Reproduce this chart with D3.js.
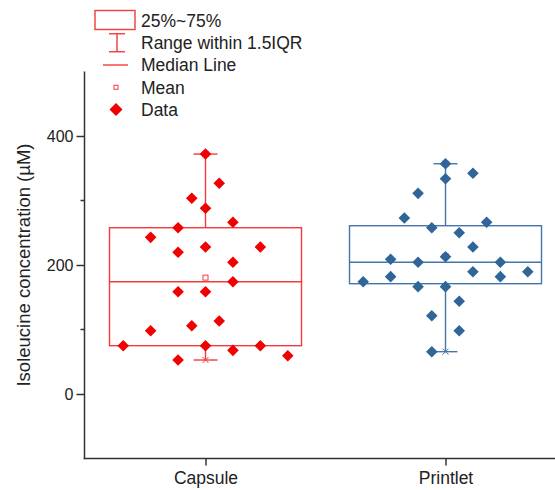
<!DOCTYPE html>
<html>
<head>
	<meta charset="utf-8">
	<title>Isoleucine box chart</title>
	<script src="https://d3js.org/d3.v7.min.js"></script>
	<style>
		body { margin: 0; background: #fff; }
		text { font-family: 'Liberation Sans', Arial, sans-serif; fill: #222; }
		.axis path, .axis line { stroke: #333; stroke-width: 1.5; }
	</style>
</head>
<body>
<script>
	// categories and data
	var categories = ["Capsule", "Printlet"];
	var capsuleValues = [372, 326.7, 303.4, 287.9, 266.2, 257.8, 242.9, 219.7, 227.9, 227.9, 204.2, 174.1,
		158.6, 158.6, 113.2, 105.9, 98.1, 74.9, 74.9, 74.9, 67.7, 59.4, 52.7];
	var capsuleSlots = [0, 1, -1, 0, 2, -2, -4, -2, 0, 4, 2, 2, -2, 0, 1, -1, -4, -6, 0, 4, 2, 6, -2];
	var printletValues = [357, 342.2, 333.8, 311.1, 272.9, 266.2, 257.8, 250.1, 227.9, 208.8, 204.2, 212.9,
		204.2, 174.1, 181.9, 189.6, 181.9, 189.6, 166.4, 166.4, 143.7, 121.4, 98.1, 65.6];
	var printletSlots = [0, 2, 0, -2, -3, 3, -1, 1, 2, -4, -2, 0, 4, -6, -4, 2, 4, 6, -2, 0, 1, -1, 1, -1];

	// box statistics (as drawn in the figure)
	var q1 = [74.9, 171];
	var medians = [174.1, 204.2];
	var q3 = [257.8, 260.9];
	var whiskerLow = [52.7, 65.6];
	var whiskerHigh = [372, 357];

	var legendLabels = ["25%~75%", "Range within 1.5IQR", "Median Line", "Mean", "Data"];
	var yTicks = [0, 200, 400];
	var yMinorTicks = [100, 300];

	var colors = { Capsule: { dot: "#f00000", line: "#f53a3a" }, Printlet: { dot: "#2f6598", line: "#4476aa" } };

	var width = 555, height = 490;
	var svg = d3.select("body").append("svg")
		.attr("width", width)
		.attr("height", height);

	var axisX = 84.5;
	var x = d3.scalePoint().domain(categories).range([85.5, 565.5]).padding(0.5);
	var y = d3.scaleLinear().domain([-100, 500]).range([458.5, 71.5]);
	var boxW = x.step() * 0.8;
	var slot = d3.scaleLinear().domain([-7, 7]).range([-boxW / 2, boxW / 2]);

	var groups = categories.map(function(c, i) {
		var vals = i === 0 ? capsuleValues : printletValues;
		var slots = i === 0 ? capsuleSlots : printletSlots;
		return {
			name: c,
			q1: q1[i], med: medians[i], q3: q3[i], lo: whiskerLow[i], hi: whiskerHigh[i],
			mean: d3.mean(vals),
			points: vals.map(function(v, j) { return { v: v, s: slots[j] }; })
		};
	});

	function diamond(cx, cy, r) {
		return "M" + cx + "," + (cy - r) + "L" + (cx + r) + "," + cy + "L" + cx + "," + (cy + r) + "L" + (cx - r) + "," + cy + "Z";
	}

	// axes
	var yAxis = svg.append("g").attr("class", "axis")
		.attr("transform", "translate(" + axisX + ",0)")
		.call(d3.axisLeft(y).tickValues(yTicks).tickSize(8).tickSizeOuter(0).tickPadding(3));
	yAxis.select(".domain").remove();
	yAxis.selectAll("text").style("font-size", "16px");
	yAxis.selectAll(".minor").data(yMinorTicks).enter().append("line")
		.attr("x1", -4).attr("x2", 0)
		.attr("y1", function(d) { return y(d); }).attr("y2", function(d) { return y(d); });
	yAxis.append("line").attr("x1", 0).attr("x2", 0).attr("y1", y(500)).attr("y2", y(-100) + 0.75);

	var xAxis = svg.append("g").attr("class", "axis")
		.attr("transform", "translate(0," + y(-100) + ")")
		.call(d3.axisBottom(x).tickSize(7).tickSizeOuter(0).tickPadding(6));
	xAxis.select(".domain").remove();
	xAxis.selectAll("text").style("font-size", "17.5px");
	xAxis.append("line").attr("x1", axisX - 0.75).attr("x2", width + 10).attr("y1", 0).attr("y2", 0);

	svg.append("text")
		.attr("transform", "translate(30," + y(200) + ") rotate(-90)")
		.attr("text-anchor", "middle")
		.style("font-size", "18.5px")
		.text("Isoleucine concentration (µM)");

	// boxes
	var g = svg.selectAll(".grp").data(groups).enter().append("g").attr("class", "grp");

	g.append("rect")
		.attr("x", function(d) { return x(d.name) - boxW / 2; })
		.attr("y", function(d) { return y(d.q3); })
		.attr("width", boxW)
		.attr("height", function(d) { return y(d.q1) - y(d.q3); })
		.attr("fill", "none")
		.attr("stroke", function(d) { return colors[d.name].line; })
		.attr("stroke-width", 1.4);

	g.append("line")
		.attr("x1", function(d) { return x(d.name) - boxW / 2; })
		.attr("x2", function(d) { return x(d.name) + boxW / 2; })
		.attr("y1", function(d) { return y(d.med); })
		.attr("y2", function(d) { return y(d.med); })
		.attr("stroke", function(d) { return colors[d.name].line; })
		.attr("stroke-width", 1.4);

	// whiskers
	[["hi", "q3"], ["lo", "q1"]].forEach(function(p) {
		g.append("line")
			.attr("x1", function(d) { return x(d.name); })
			.attr("x2", function(d) { return x(d.name); })
			.attr("y1", function(d) { return y(d[p[0]]); })
			.attr("y2", function(d) { return y(d[p[1]]); })
			.attr("stroke", function(d) { return colors[d.name].line; })
			.attr("stroke-width", 1.4);
		g.append("line")
			.attr("x1", function(d) { return x(d.name) - 12; })
			.attr("x2", function(d) { return x(d.name) + 12; })
			.attr("y1", function(d) { return y(d[p[0]]); })
			.attr("y2", function(d) { return y(d[p[0]]); })
			.attr("stroke", function(d) { return colors[d.name].line; })
			.attr("stroke-width", 1.4);
		g.append("path")
			.attr("d", function(d) {
				var cx = x(d.name), cy = y(d[p[0]]), r = 3;
				return "M" + (cx - r) + "," + (cy - r) + "L" + (cx + r) + "," + (cy + r) +
					"M" + (cx - r) + "," + (cy + r) + "L" + (cx + r) + "," + (cy - r);
			})
			.attr("stroke", function(d) { return colors[d.name].line; })
			.attr("stroke-width", 1);
	});

	// mean
	g.append("rect")
		.attr("x", function(d) { return x(d.name) - 2.5; })
		.attr("y", function(d) { return y(d.mean) - 2.5; })
		.attr("width", 5).attr("height", 5)
		.attr("fill", "#fff")
		.attr("stroke", function(d) { return colors[d.name].line; })
		.attr("stroke-width", 1);

	// data points
	g.each(function(d) {
		d3.select(this).selectAll(".pt").data(d.points).enter().append("path")
			.attr("class", "pt")
			.attr("d", function(p) { return diamond(x(d.name) + slot(p.s), y(p.v), 5.8); })
			.attr("fill", colors[d.name].dot);
	});

	// legend
	var red = colors.Capsule;
	var leg = svg.append("g");
	var rowY = d3.scalePoint().domain(legendLabels).range([20.5, 109.5]);
	leg.append("rect").attr("x", 95).attr("y", 10.5).attr("width", 40).attr("height", 19)
		.attr("fill", "none").attr("stroke", red.line).attr("stroke-width", 1.4);
	var wy = rowY(legendLabels[1]);
	leg.append("line").attr("x1", 117).attr("x2", 117).attr("y1", wy - 9).attr("y2", wy + 9).attr("stroke", red.line).attr("stroke-width", 1.4);
	leg.append("line").attr("x1", 109).attr("x2", 125).attr("y1", wy - 9).attr("y2", wy - 9).attr("stroke", red.line).attr("stroke-width", 1.4);
	leg.append("line").attr("x1", 109).attr("x2", 125).attr("y1", wy + 9).attr("y2", wy + 9).attr("stroke", red.line).attr("stroke-width", 1.4);
	var my = rowY(legendLabels[2]);
	leg.append("line").attr("x1", 103).attr("x2", 128).attr("y1", my).attr("y2", my).attr("stroke", red.line).attr("stroke-width", 1.4);
	var mny = rowY(legendLabels[3]);
	leg.append("rect").attr("x", 114).attr("y", mny - 2).attr("width", 4).attr("height", 4)
		.attr("fill", "#fff").attr("stroke", red.line).attr("stroke-width", 1);
	leg.append("path").attr("d", diamond(116, rowY(legendLabels[4]), 6.5)).attr("fill", red.dot);
	leg.selectAll(".lt").data(legendLabels).enter().append("text")
		.attr("x", 141)
		.attr("y", function(d) { return rowY(d); })
		.attr("dy", "0.36em")
		.style("font-size", "17.5px")
		.text(function(d) { return d; });
</script>
</body>
</html>
